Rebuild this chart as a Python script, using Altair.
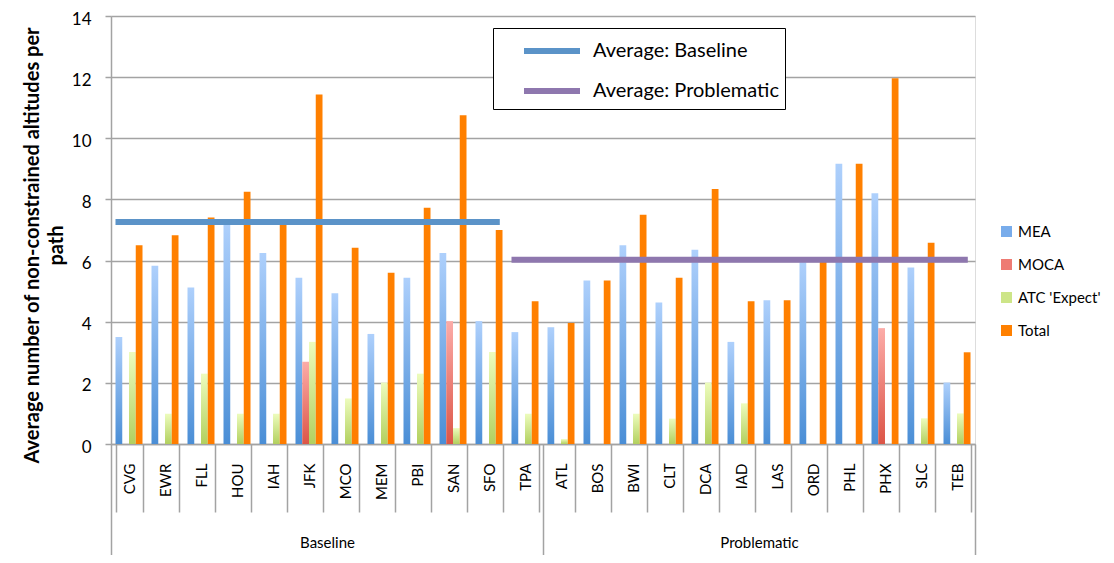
import altair as alt
import pandas as pd

FONT = "Lato"

BASELINE = ["CVG", "EWR", "FLL", "HOU", "IAH", "JFK", "MCO", "MEM", "PBI", "SAN", "SFO", "TPA"]
PROBLEMATIC = ["ATL", "BOS", "BWI", "CLT", "DCA", "IAD", "LAS", "ORD", "PHL", "PHX", "SLC", "TEB"]
AIRPORTS = BASELINE + PROBLEMATIC
GROUPS = ["Baseline", "Problematic"]
SERIES = ["MEA", "MOCA", "ATC 'Expect'", "Total"]

mea = [3.50, 5.83, 5.12, 7.20, 6.25, 5.44, 4.93, 3.60, 5.44, 6.25, 4.02, 3.66,
       3.82, 5.35, 6.50, 4.63, 6.35, 3.34, 4.70, 5.96, 9.17, 8.20, 5.77, 2.01]
moca = [0, 0, 0, 0, 0, 2.69, 0, 0, 0, 4.02, 0, 0,
        0, 0, 0, 0, 0, 0, 0, 0, 0, 3.79, 0, 0]
atc = [3.01, 0.99, 2.30, 0.99, 0.99, 3.34, 1.49, 2.01, 2.30, 0.52, 3.01, 0.99,
       0.16, 0, 0.99, 0.83, 2.01, 1.33, 0, 0, 0, 0, 0.84, 1.00]
total = [6.50, 6.83, 7.41, 8.25, 7.18, 11.43, 6.42, 5.60, 7.73, 10.75, 7.00, 4.67,
         3.96, 5.35, 7.50, 5.44, 8.34, 4.67, 4.70, 5.96, 9.17, 11.96, 6.58, 3.00]

avg_names = ["Average: Baseline", "Average: Problematic"]
avg_values = [7.26, 6.03]
avg_start = ["CVG", "TPA"]
avg_end = ["SFO", "TEB"]
avg_colors = ["#5b93c8", "#8e77ae"]

legend_colors = ["#78aceb", "#ee7b73", "#cde588", "#ff8000"]

series_values = {"MEA": mea, "MOCA": moca, "ATC 'Expect'": atc, "Total": total}
gradients = {
    "MEA": ("#aed0fc", "#4a8ed6"),
    "MOCA": ("#fcaca8", "#dc5547"),
    "ATC 'Expect'": ("#edfcbd", "#b2d05e"),
    "Total": ("#ff8000", "#ff7d00"),
}

GRAY = "#a3a3a3"
NBSP_PAD = "\u00a0" * 9

x_axis = alt.Axis(
    title=None, orient="bottom", labelAngle=270, labelAlign="right", labelBaseline="middle",
    labelPadding=-49, tickSize=68, tickBand="extent", tickColor=GRAY, tickWidth=1.5,
    domainColor=GRAY, domainWidth=1.5, labelFont=FONT, labelFontSize=15,
    labelColor="#000000", labelOverlap=False, grid=False,
)
x_scale = alt.Scale(domain=AIRPORTS, paddingInner=0.25, paddingOuter=0.125)

y_axis = alt.Axis(
    title=["Average number of non-constrained altitudes per", "path"],
    titleFont=FONT, titleFontSize=20, titleFontWeight="bold", titleColor="#000000",
    titleLineHeight=24, titleX=-79, titleY=229, titleAngle=270,
    titleAlign="center", titleBaseline="middle",
    values=[0, 2, 4, 6, 8, 10, 12, 14], labelFont=FONT, labelFontSize=17, labelColor="#000000",
    labelPadding=14, labelOffset=3, tickSize=6, tickColor=GRAY, tickWidth=1.5,
    domainColor=GRAY, domainWidth=1.5, grid=True, gridColor=GRAY, gridWidth=1.5,
)
y_scale = alt.Scale(domain=[0, 14], nice=False)

bar_layers = []
for s in SERIES:
    df = pd.DataFrame({"airport": AIRPORTS, "series": s, "value": series_values[s]})
    top, bottom = gradients[s]
    grad = alt.Gradient(
        gradient="linear",
        stops=[alt.GradientStop(color=top, offset=0), alt.GradientStop(color=bottom, offset=1)],
        x1=0, x2=0, y1=0, y2=1,
    )
    layer = alt.Chart(df).mark_bar(color=grad).encode(
        x=alt.X("airport:N", sort=AIRPORTS, scale=x_scale, axis=x_axis),
        xOffset=alt.XOffset("series:N", scale=alt.Scale(domain=SERIES, paddingInner=0, paddingOuter=0)),
        y=alt.Y("value:Q", scale=y_scale, axis=y_axis),
    )
    bar_layers.append(layer)

avg_df = pd.DataFrame({"name": avg_names, "value": avg_values, "start": avg_start, "end": avg_end})
avg_layer = alt.Chart(avg_df).mark_rule(strokeWidth=6).encode(
    x=alt.X("start:N", sort=AIRPORTS, scale=x_scale, axis=x_axis, bandPosition=0),
    x2=alt.X2("end:N", bandPosition=0.9),
    y=alt.Y("value:Q", scale=y_scale, axis=y_axis),
    color=alt.Color(
        "name:N",
        scale=alt.Scale(domain=avg_names, range=avg_colors),
        legend=alt.Legend(
            title=None, orient="none", legendX=382, legendY=12,
            strokeColor="#000000", fillColor="#ffffff", padding=6,
            symbolType="M-2,0H2", symbolStrokeWidth=6, symbolSize=784,
            symbolOffset=36, labelOffset=24, labelFont=FONT, labelFontSize=20,
            labelColor="#000000", rowPadding=11, labelLimit=400,
            labelExpr="datum.label + '" + NBSP_PAD + "'",
        ),
    ),
)

legend_df = pd.DataFrame({"series": SERIES})
legend_layer = alt.Chart(legend_df).mark_square(opacity=0).encode(
    color=alt.Color(
        "series:N",
        scale=alt.Scale(domain=SERIES, range=legend_colors),
        legend=alt.Legend(
            title=None, orient="none", legendX=888, legendY=208,
            symbolType="square", symbolSize=121, symbolOpacity=1, symbolStrokeWidth=0,
            labelFont=FONT, labelFontSize=15, labelColor="#000000", rowPadding=17,
            labelOffset=4, labelLimit=300,
        ),
    ),
)

inner = alt.layer(*bar_layers, avg_layer, legend_layer).resolve_scale(color="independent")

group_df = pd.DataFrame({"group": GROUPS})
group_layer = alt.Chart(group_df).mark_point(opacity=0).encode(
    x=alt.X(
        "group:N",
        scale=alt.Scale(domain=GROUPS, paddingInner=0, paddingOuter=0),
        axis=alt.Axis(
            title=None, orient="bottom", domain=False, tickBand="extent", tickSize=111,
            tickColor=GRAY, tickWidth=1.5, labelAngle=0, labelPadding=-20,
            labelBaseline="top", labelFont=FONT, labelFontSize=15, labelColor="#000000",
            grid=False,
        ),
    ),
)

chart = (
    alt.layer(inner, group_layer)
    .resolve_scale(x="independent")
    .properties(
        width=864, height=428,
        autosize=alt.AutoSizeParams(type="none"),
        padding={"left": 103, "top": 8, "right": 131, "bottom": 111},
    )
    .configure_view(stroke=None)
    .configure(font=FONT)
)

chart.save("out.html", embed_options={"renderer": "svg", "actions": False})
